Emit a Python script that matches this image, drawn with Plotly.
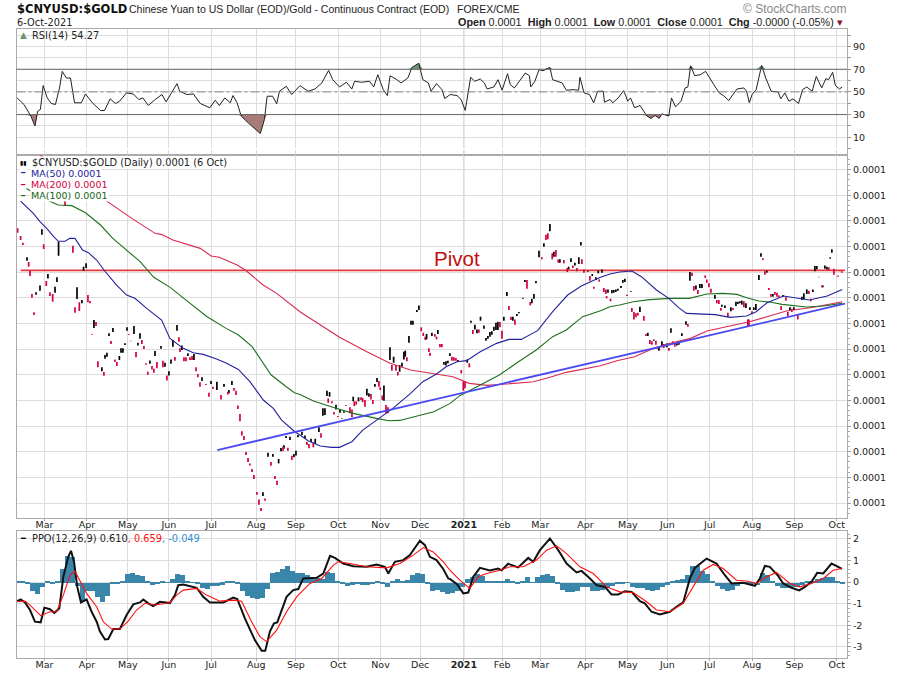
import numpy as np
import pandas as pd
import plotly.graph_objects as go
from plotly.subplots import make_subplots

# all x values are calendar days counted from this date
START = pd.Timestamp("2020-02-10")

month_labels = ["Mar", "Apr", "May", "Jun", "Jul", "Aug", "Sep", "Oct", "Nov", "Dec", "<b>2021</b>",
                "Feb", "Mar", "Apr", "May", "Jun", "Jul", "Aug", "Sep", "Oct"]
month_days = [20, 51, 81, 111, 142, 175, 204, 235, 266, 295, 327, 355, 383, 416, 447, 476, 507, 538, 569, 600]
year_day = 327

# RSI(14)
rsi_days = [0, 5, 10, 13, 15, 17, 19, 22, 25, 28, 31, 33, 36, 39, 42, 47, 50, 55, 61, 64, 68, 72, 75, 80, 85, 89, 92, 96,
            101, 106, 109, 114, 117, 119, 124, 129, 134, 141, 145, 148, 152, 156, 158, 161, 164, 169, 174, 178, 181, 183,
            187, 190, 192, 197, 201, 207, 213, 218, 223, 228, 231, 236, 241, 245, 247, 252, 258, 261, 264, 268, 271, 273,
            278, 281, 286, 289, 294, 297, 301, 303, 307, 311, 313, 317, 322, 325, 328, 330, 332, 335, 339, 342, 344, 349,
            352, 355, 359, 361, 364, 372, 375, 376, 379, 382, 385, 390, 392, 399, 402, 407, 411, 412, 415, 419, 422, 425,
            429, 430, 434, 436, 440, 444, 447, 449, 452, 456, 461, 464, 467, 470, 472, 477, 479, 482, 486, 489, 491, 493,
            496, 500, 504, 510, 514, 517, 521, 524, 527, 532, 534, 536, 538, 541, 545, 548, 552, 557, 559, 562, 565, 568,
            572, 575, 578, 582, 585, 589, 592, 594, 597, 599, 602, 604]
rsi_values = [44.7, 38.9, 28.7, 19.9, 33, 34.5, 55.6, 44.7, 39.8, 38.9, 53.5, 68.1, 62.3, 62.3, 40.4, 40.4, 48.2, 40.4, 33.6,
              33.6, 43.9, 39.8, 41.8, 49.1, 48.2, 43.3, 44.7, 38, 43.3, 47.7, 41.2, 52, 57.3, 50.6, 47.7, 48.2, 39.8, 36, 42.7,
              38, 44.7, 40.4, 46.8, 40.4, 28.7, 22.8, 17.5, 13.2, 25.7, 46.2, 46.2, 39.5, 50.6, 55, 47.7, 55.6, 50.6, 52.6,
              57.9, 69, 60.8, 54.4, 58.5, 52.6, 59.4, 58.5, 59.4, 54.4, 65.2, 52, 46.8, 64.3, 60.8, 57.9, 62.3, 71.6, 75.4,
              60.8, 57.9, 50.6, 57.3, 52, 44.2, 47.7, 46.8, 43.3, 33.6, 47.7, 62.9, 59.4, 61.4, 57.9, 52.6, 54.4, 60.8, 51.5,
              66.1, 56.4, 53.5, 66.7, 64.3, 54.4, 59.4, 69.6, 68.7, 71.6, 60.8, 57.9, 51.5, 52, 51.5, 62.9, 49.1, 47.7, 40.4,
              50.6, 50.6, 40.9, 43.3, 40.4, 44.7, 51.2, 41.8, 44.7, 36, 38, 28.7, 26.6, 29.2, 26.6, 30.7, 28.7, 44.7, 36.8,
              41.8, 53.5, 54.4, 73.1, 64.3, 65.2, 68.1, 56.4, 49.1, 46.8, 42.4, 47.7, 52.6, 53.5, 50.6, 40.4, 47.7, 52, 73.4,
              62.3, 50.6, 50, 43.9, 49.1, 41.8, 43.9, 39.8, 52, 54.4, 50.6, 63.7, 53.5, 61.7, 60.8, 67.3, 55.6, 52.6, 54.4]

# moving averages, price in millionths (0.0001 on the axis is a rounded label)
ma50_days = [2.5, 11.8, 16.7, 21.6, 26.4, 30.1, 35, 38.6, 42.3, 47.9, 52.1, 58.2, 63.5, 72.8, 80.1, 86.2, 94.8, 105.7, 111.8,
             121.6, 128.9, 136.2, 146, 153.3, 161.9, 170.4, 180.2, 187.5, 193.6, 203.3, 207, 213, 222, 230, 236, 245, 253, 266,
             275, 288, 297, 307, 314, 322, 329, 339, 351, 360, 369, 381, 392, 403, 413, 427, 434, 441, 450, 457, 468, 477, 484,
             490, 500, 511, 522, 534, 541, 549, 561, 571, 580, 593, 604]
ma50_values = [91.55, 90.59, 89.94, 89.42, 88.82, 88.41, 88.41, 88.64, 88.64, 87.73, 87.52, 86.95, 86.17, 85.0, 84.22, 83.96,
               83.18, 82.27, 80.84, 80.06, 79.72, 79.59, 79.23, 78.89, 78.42, 77.46, 76.03, 75.38, 74.47, 73.56, 73.3, 72.86,
               72.44, 72.34, 72.34, 72.78, 73.69, 74.73, 75.38, 76.55, 77.46, 78.06, 78.63, 79.02, 79.1, 79.8, 80.45, 80.76,
               80.76, 81.44, 82.92, 84.22, 84.92, 85.6, 85.86, 86.01, 86.09, 85.65, 84.61, 83.96, 83.26, 82.79, 82.74, 82.69,
               82.48, 82.58, 82.92, 83.62, 84.14, 83.96, 83.83, 84.14, 84.66]
ma100_days = [2, 12, 22, 30, 40, 50, 61, 70, 80, 90, 100, 112, 122, 139, 153, 162, 172, 180, 186, 197, 203, 207, 217, 231, 246,
              263, 272, 280, 290, 305, 317, 324, 339, 353, 367, 380, 392, 402, 414, 427, 434, 441, 451, 463, 478, 492, 505, 517,
              527, 534, 543, 551, 560, 571, 578, 590, 604]
ma100_values = [92.8, 92.2, 91.63, 91.24, 91.19, 90.64, 89.68, 88.64, 87.73, 86.82, 85.6, 84.82, 83.96, 82.53, 81.62, 81.1,
                80.19, 78.89, 77.98, 77.07, 76.6, 76.47, 75.95, 75.46, 74.99, 74.6, 74.42, 74.44, 74.73, 75.12, 75.77, 76.37,
                77.2, 77.98, 79.02, 79.93, 80.97, 81.49, 82.53, 82.99, 83.31, 83.44, 83.7, 83.86, 83.96, 83.96, 84.3, 84.35,
                84.27, 84.01, 83.75, 83.67, 83.49, 83.36, 83.28, 83.36, 83.57]
ma200_days = [17, 40, 61, 64, 75, 85, 101, 106, 114, 134, 142, 148, 161, 167, 180, 190, 207, 222, 236, 256, 273, 288, 305, 319,
              331, 344, 358, 378, 390, 402, 427, 439, 452, 466, 478, 493, 505, 524, 536, 549, 563, 583, 604]
ma200_values = [95.1, 93.4, 91.84, 91.63, 90.85, 90.12, 89.03, 88.93, 88.51, 87.86, 87.26, 87.16, 86.56, 86.17, 85.0, 84.35,
                82.92, 81.88, 80.92, 79.8, 78.89, 78.37, 78.11, 77.85, 77.33, 77.17, 77.28, 77.46, 77.8, 78.19, 78.71, 79.1,
                79.41, 80.06, 80.45, 80.84, 81.41, 81.88, 82.14, 82.53, 82.97, 83.26, 83.7]

pivot_days = [2.5, 606]
pivot_values = [86.14, 86.14]
trend_days = [146.5, 606]
trend_values = [72.13, 83.54]

# daily bars as (day, high, low)
up_bars = [
    (18.1, 89.34, 88.93), (30.3, 88.38, 87.29), (7.2, 87.16, 86.9), (22.5, 85.86, 85.5), (29.1, 85.6, 85.23),
    (13.8, 84.43, 84.25), (16.7, 84.97, 84.56), (27.7, 84.87, 84.4), (43.8, 84.82, 83.91), (47.4, 83.83, 83.57),
    (48.6, 86.43, 86.12), (50.4, 86.69, 86.33), (56.2, 82.27, 81.65), (67.2, 81.23, 81.02), (70.1, 81.65, 81.33),
    (80.4, 81.7, 81.44), (85.5, 81.8, 81.18), (89.9, 81.23, 80.81), (78.9, 80.45, 80.32), (88.4, 80.5, 80.29),
    (74.8, 79.46, 79.15), (76, 80.06, 79.72), (77.4, 80.06, 79.72), (64.3, 79.54, 79.25), (65.7, 79.72, 79.41),
    (62, 78.58, 78.27), (97.2, 79.12, 78.86), (100.9, 79.85, 79.46), (108.2, 78.94, 78.63), (112.6, 79.2, 78.86),
    (111.1, 78.27, 77.95), (105.3, 80.24, 80.03), (114, 80.71, 80.19), (117, 81.88, 81.44), (120.6, 80.29, 79.93),
    (125, 79.67, 79.46), (129.4, 79.62, 79.15), (135.3, 77.8, 77.51), (141.9, 77.51, 77.28), (146.2, 77.46, 76.81),
    (151.4, 77.28, 77.07), (157.2, 77.51, 77.2), (155, 76.81, 76.55), (179.9, 68.83, 68.54), (183.6, 71.92, 71.61),
    (187.2, 71.82, 71.61), (191.4, 71.43, 71.09), (193.1, 72.29, 72.03), (195.3, 72.5, 72.23), (196.8, 73.22, 73.07),
    (199.7, 73.17, 72.91), (205.5, 73.3, 73.12), (204.1, 72.08, 71.71), (202.6, 71.82, 71.56),
    (208.5, 73.56, 73.3), (210.7, 73.27, 73.01), (215.1, 73.01, 72.75), (218.2, 73.01, 72.6), (220.9, 73.9, 73.53),
    (223.8, 75.38, 74.81), (225.3, 75.38, 74.86), (226.8, 76.76, 76.34), (228.7, 76.65, 76.29), (233.4, 75.67, 75.3),
    (236.3, 75.25, 75.04), (239.2, 75.15, 75.04), (246, 76.29, 75.93), (249.9, 76.24, 75.93), (256, 76.91, 76.39),
    (257.5, 76.55, 76.29), (261.9, 77.28, 77.07), (263.4, 77.75, 77.43), (268.5, 77.17, 75.98), (272.9, 80.14, 79.15),
    (275.6, 79.41, 78.94), (280, 78.76, 78.24), (281.7, 78.94, 78.63), (283.1, 79.8, 79.2), (284.1, 79.88, 79.41),
    (286.8, 81.02, 80.5), (288.3, 82.22, 81.91), (289.7, 82.22, 81.91), (292.6, 83.05, 82.89), (294.1, 83.41, 83.05),
    (299.7, 81.18, 80.76), (303.6, 81.28, 81.02), (308, 81.49, 81.18), (312.4, 78.99, 78.79), (313.9, 79.05, 78.73),
    (315.3, 79.1, 78.89), (316.8, 79.67, 79.46), (322.7, 79.15, 78.99), (329.5, 79.2, 78.94), (332.2, 82.22, 82.06),
    (335.1, 81.91, 81.54), (336.6, 81.54, 81.23), (339.2, 82.53, 82.22), (341.7, 81.85, 81.59), (343.2, 80.87, 80.66),
    (344.6, 81.02, 80.81), (346.1, 81.33, 80.97), (347.5, 81.39, 81.13), (349, 81.75, 81.44), (350.5, 82.06, 81.49),
    (351.9, 82.14, 81.49), (356.3, 82.53, 82.22), (358.5, 84.45, 84.14), (362.9, 82.53, 82.22), (365.8, 82.74, 82.58),
    (367.3, 82.89, 82.79), (370.2, 84.01, 83.93), (371.7, 85.39, 85.23), (376.8, 83.93, 83.57), (378.3, 84.3, 83.93),
    (379.8, 85.31, 85.13), (382, 87.68, 87.16), (385.6, 88.25, 87.99), (390, 89.76, 89.19), (392.9, 87.6, 87.21),
    (397.3, 87.0, 86.74), (403.7, 86.43, 86.22), (405.4, 87.08, 86.79), (408.3, 86.74, 86.53), (411.2, 87.16, 86.64),
    (412.7, 88.35, 88.09), (417.8, 86.12, 86.04), (421, 85.86, 85.7), (423.7, 85.6, 85.39), (425.4, 86.12, 85.91),
    (428.1, 86.22, 85.96), (432.5, 84.66, 84.4), (435.4, 84.61, 84.35), (436.8, 84.61, 84.4), (438.3, 84.66, 84.45),
    (439.8, 84.71, 84.56), (442, 84.92, 84.77), (443.4, 85.39, 85.18), (444.9, 85.49, 85.23), (449.3, 84.53, 84.48),
    (455.9, 83.31, 82.89), (461.7, 81.28, 81.02), (466.1, 80.76, 80.66), (469.8, 80.14, 79.88), (472, 80.61, 80.19),
    (475.6, 80.45, 80.14), (478.6, 81.62, 81.28), (483, 80.5, 80.29), (484.4, 80.61, 80.35), (486.6, 81.23, 81.02),
    (489.6, 82.17, 81.91), (492.5, 86.01, 85.34), (496.9, 84.97, 84.66), (499.8, 85.08, 84.77), (501.3, 85.08, 84.77),
    (510.8, 84.22, 83.93), (515.9, 83.47, 83.31), (518.1, 83.41, 83.21), (522.5, 83.26, 82.95), (526.2, 83.7, 83.36),
    (527.6, 83.7, 83.52), (529.1, 83.73, 83.57), (530.5, 83.78, 83.47), (533.5, 83.57, 83.21), (536.4, 83.26, 83.05),
    (539.3, 83.26, 83.05), (540.8, 83.52, 83.05), (543, 85.78, 85.39), (544.5, 87.47, 87.21), (548.8, 86.12, 85.96),
    (553.2, 84.3, 84.09), (560.6, 84.22, 84.09), (565.7, 83.26, 83.05), (568.6, 83.26, 83.05), (574.5, 84.09, 83.83),
    (575.9, 84.35, 83.88), (578.1, 84.66, 84.3), (582.5, 84.66, 84.45), (584, 86.48, 86.07), (585.4, 86.48, 86.22),
    (589.8, 84.97, 84.82), (591.3, 86.53, 86.27), (592.8, 86.43, 86.22), (595.2, 87.16, 87.05), (596.4, 87.78, 87.52),
]
down_bars = [
    (0.3, 89.42, 89.08), (2.5, 88.82, 88.51), (4.2, 88.3, 88.12), (19.4, 88.17, 87.81), (35, 91.58, 91.16),
    (40.8, 88.07, 87.52), (8.4, 86.79, 86.43), (9.4, 86.12, 85.7), (21.3, 85.31, 84.92), (10.8, 84.3, 84.01),
    (24, 84.43, 84.14), (26, 84.3, 83.7), (51.8, 84.22, 83.65), (53.3, 83.75, 83.57), (12.3, 82.87, 82.66),
    (42.3, 83.26, 82.84), (45.5, 83.65, 82.97), (57.7, 82.11, 81.8), (54.7, 81.18, 81.13), (81.8, 81.18, 81.13),
    (91.3, 80.71, 80.4), (92.8, 80.24, 80.01), (68.7, 80.63, 80.4), (83, 80.66, 80.61), (59.1, 79.05, 78.58),
    (63.5, 78.21, 77.93), (71.6, 79.2, 78.99), (73, 78.99, 78.68), (87, 79.77, 79.36), (94.3, 78.89, 78.79),
    (95.7, 78.24, 78.01), (98.7, 78.68, 78.42), (100.1, 78.47, 78.16), (102.3, 78.99, 78.5), (106.7, 79.1, 78.58),
    (115.5, 79.38, 79.1), (109.6, 77.95, 77.56), (118.4, 80.92, 80.58), (119.2, 80.06, 79.77), (122.1, 79.36, 79.05),
    (123.6, 79.36, 79.05), (126.5, 79.36, 79.15), (128, 79.46, 79.15), (130.9, 78.58, 78.27), (132.3, 78.06, 77.8),
    (133.8, 77.41, 77.07), (138.2, 77.28, 77.2), (143.3, 77.07, 76.89), (140.4, 76.6, 76.29), (149.2, 76.42, 76.08),
    (158.7, 76.97, 76.76), (160.2, 76.76, 76.42), (154.3, 76.68, 76.47), (161.6, 75.61, 75.33), (163.1, 74.94, 74.37),
    (164.5, 73.59, 73.27), (166, 73.22, 72.91), (167.5, 71.97, 71.74), (169, 71.51, 71.19), (170.4, 71.09, 70.93),
    (171.9, 70.65, 70.41), (173.3, 70.18, 69.87), (175.5, 68.85, 68.65), (177, 68.28, 67.87), (181.4, 68.36, 68.18),
    (178.5, 67.61, 67.37), (185.8, 71.19, 70.91), (188.7, 70.1, 69.87), (190.2, 69.74, 69.4), (194.6, 72.39, 72.05),
    (198.2, 72.31, 72.08), (201.1, 71.69, 71.35),
    (212.1, 72.78, 72.52), (213.6, 72.6, 72.26), (216.8, 72.7, 72.34), (222.4, 73.43, 73.09), (227.7, 76.16, 75.82),
    (230.4, 75.93, 75.77), (231.9, 75.09, 74.91), (234.8, 74.78, 74.7), (237.7, 74.63, 74.57), (240.7, 75.64, 75.56),
    (243.6, 75.46, 74.99), (245.1, 75.3, 74.68), (246.8, 75.93, 75.56), (248.2, 75.93, 75.67), (251.7, 76.24, 76.03),
    (252.9, 76.19, 75.87), (254.6, 76.03, 75.51), (259, 76.5, 76.08), (260.4, 76.03, 75.72), (264.8, 77.51, 77.07),
    (265.8, 77.02, 76.81), (267.3, 76.39, 76.03), (270, 75.64, 74.99), (271.4, 75.46, 74.99), (274.3, 78.76, 78.32),
    (277.3, 78.76, 78.32), (278.7, 78.21, 77.95), (285.3, 79.36, 79.05), (295.8, 81.7, 81.39), (297.3, 81.28, 81.02),
    (298.7, 80.97, 80.71), (305.8, 81.18, 80.97), (307, 80.97, 80.76), (309.5, 80.4, 80.14), (310.9, 80.4, 80.14),
    (301.4, 80.06, 79.77), (302.2, 79.72, 79.46), (318.3, 79.41, 79.1), (319.7, 79.36, 79.1), (321.2, 79.31, 79.1),
    (325.1, 78.37, 78.11), (326.6, 77.49, 76.76), (327.8, 77.49, 76.94), (331, 78.89, 78.58), (333.6, 81.49, 81.18),
    (338, 81.54, 81.28), (353.4, 82.11, 81.7), (354.9, 81.44, 80.81), (360, 83.36, 83.05), (361.5, 82.53, 82.27),
    (364.4, 82.32, 81.91), (373.2, 85.39, 84.71), (375.6, 83.67, 83.41), (384.1, 87.16, 87), (387.1, 88.93, 88.51),
    (388.5, 89.03, 88.56), (391.7, 87.47, 87), (394.4, 87.73, 87.21), (396.1, 87, 86.74), (400.2, 86.95, 86.69),
    (402.7, 86.33, 86.01), (406.8, 86.53, 86.33), (409.8, 86.33, 86.07), (413.4, 87, 86.64), (414.9, 86.22, 85.96),
    (419.3, 85.7, 85.34), (422.2, 84.87, 84.71), (426.1, 85.44, 85.26),
    (429.5, 84.77, 84.45), (431, 84.66, 84.3), (431.5, 84.14, 83.96), (434.4, 83.93, 83.73), (446.4, 84.25, 84.14),
    (450, 83.2, 82.89), (451.5, 82.89, 82.32), (453, 82.79, 82.48), (454.4, 82.84, 82.63), (458.8, 82.58, 82.22),
    (460.3, 81.18, 81.02), (463.2, 80.71, 80.4), (464.7, 80.61, 80.35), (467.6, 80.66, 80.35), (468.6, 80.19, 80.03),
    (473.4, 80.4, 80.09), (477.1, 80.09, 79.88), (480, 80.61, 80.4), (481.5, 80.4, 80.19), (491, 81.96, 81.75),
    (494, 85.96, 85.7), (495.4, 84.92, 84.56), (498.3, 84.61, 84.3), (503.7, 85.75, 85.55), (504.9, 85.44, 85.18),
    (506.4, 85.13, 84.82), (507.9, 84.71, 84.4), (512.2, 83.83, 83.57), (513.7, 83.83, 83.52), (515.2, 83.2, 83),
    (520.3, 82.84, 82.48), (524, 83.2, 83.05), (532, 83.73, 83.26), (534.9, 82.32, 81.8), (535.7, 82.32, 81.8),
    (537.9, 82.95, 82.74), (545.9, 87.08, 86.95), (547.4, 86.07, 85.81), (550.3, 84.77, 84.61), (551.8, 84.3, 84.09),
    (554.7, 84.45, 84.25), (556.2, 84.4, 84.09), (557.6, 84.19, 84.04), (562.8, 84.04, 83.78), (559.3, 83.36, 83.05),
    (564.2, 82.89, 82.58), (567.1, 83.15, 82.89), (571.5, 82.69, 82.32), (579.6, 84.56, 84.3), (581, 83.93, 83.73),
    (586.9, 85.65, 85.6), (589.1, 84.97, 84.82), (594.2, 86.38, 86.17), (597.9, 86.27, 85.81), (600.8, 85.75, 85.65),
    (602.3, 86.12, 86.07), (603.7, 86.07, 85.96),
]

# PPO(12,26,9)
ppo_days = [0, 2.5, 5.7, 9.4, 13, 17.2, 19.9, 24, 27.2, 30.8, 33.8, 37.4, 39.4, 41.6, 44, 46.7, 50.8, 54.5, 58.2, 60.6, 64.3,
            66.7, 70.4, 75.2, 80.1, 85, 89.9, 92.3, 96, 99.6, 104.5, 111.8, 115.5, 117.9, 121.6, 131.4, 136.2, 141.1, 150.9,
            158.2, 161.1, 166.7, 174, 179, 181.6, 185, 188, 190.4, 197.2, 202.1, 205.8, 209.4, 219.2, 224.1, 229, 232.6,
            238.7, 246, 255.8, 263.1, 269.2, 271.7, 276.5, 282.6, 287.5, 294.8, 298.5, 302.2, 307, 312, 315.6, 317, 322,
            326.6, 330.2, 333.9, 338.8, 346, 352.2, 354.6, 359.5, 366.8, 374.1, 377.8, 382.7, 390, 396.1, 402.2, 409.5,
            413.2, 419.3, 424.2, 430.3, 435.1, 440, 444.9, 449.8, 455.9, 459.5, 464.4, 470.5, 477.8, 482.7, 487.6, 492.5,
            496.1, 504.7, 512, 518.1, 523, 531.5, 540.1, 543.7, 547.4, 551, 557.1, 560.8, 566.9, 572.5, 576.7, 581.5, 585.7,
            590.1, 596.2, 601, 603.8]
ppo_values = [-0.88, -0.8, -0.94, -1.29, -1.83, -1.86, -1.18, -1.25, -1.42, -1.22, 0.25, 1.17, 1.45, 0.95, -0.22, -0.94, -0.8,
              -1.37, -1.83, -2.29, -2.65, -2.63, -2.17, -2.17, -1.52, -1.03, -0.94, -0.8, -0.98, -1.11, -0.91, -0.97, -0.6,
              -0.14, -0.11, -0.26, -0.68, -0.94, -0.94, -0.71, -0.78, -1.68, -2.68, -3.18, -3.18, -2.29, -1.91, -1.86, -0.68,
              -0.37, -0.32, 0.17, 0.2, 0.4, 1.22, 1.12, 0.86, 0.74, 0.71, 0.82, 0.71, 0.4, 0.94, 1.02, 1.25, 1.92, 1.71, 1.17,
              1.02, 0.6, 0.17, 0.14, -0.09, -0.52, -0.48, 0.25, 0.66, 0.54, 0.63, 0.55, 0.85, 0.68, 1.12, 0.94, 1.48, 2.02,
              1.48, 0.86, 0.45, 0.52, 0.17, -0.14, -0.22, -0.57, -0.57, -0.42, -0.45, -0.88, -0.98, -1.37, -1.49, -1.37, -1.14,
              -0.94, 0.17, 0.66, 1.09, 0.86, 0.32, -0.06, -0.03, -0.17, 0.17, 0.75, 0.71, 0.29, -0.06, -0.26, -0.38, -0.22,
              0.02, 0.43, 0.4, 0.86, 0.71, 0.61]
signal_days = [0, 5.7, 9.4, 17.2, 24, 28.9, 33.8, 38.6, 42.3, 46, 50.8, 58.2, 63, 69.1, 75.2, 81.3, 87.4, 93.5, 100.9, 111.8,
               116.7, 121.6, 131.4, 138.7, 148.4, 158.2, 164.3, 171.6, 177.7, 182.6, 190, 197.2, 204.6, 214.3, 222.9, 231.4,
               235, 243.6, 255.8, 270.4, 280.2, 290, 297.3, 304.6, 312, 316.8, 324, 331.4, 337.5, 343.6, 353.4, 360.7, 370.5,
               380.2, 387.6, 394.9, 402.2, 412, 421.7, 431.5, 441.2, 451, 460.8, 468.1, 477.8, 487.6, 494.9, 502.2, 509.6,
               516.9, 526.6, 534, 541.3, 548.6, 555.9, 565.7, 573, 581.5, 590.1, 597.4, 603.8]
signal_values = [-0.91, -0.88, -1.06, -1.55, -1.37, -1.37, -0.6, 0.32, 0.51, 0.09, -0.52, -1.14, -1.83, -2.17, -2.17, -1.8,
                 -1.29, -0.98, -1.06, -0.95, -0.6, -0.37, -0.29, -0.6, -0.88, -0.83, -0.88, -1.83, -2.52, -2.75, -2.22, -1.37,
                 -0.68, -0.06, 0.17, 0.78, 0.94, 0.86, 0.71, 0.66, 0.86, 1.25, 1.6, 1.4, 0.94, 0.55, 0.09, -0.29, 0.25, 0.4,
                 0.55, 0.71, 0.71, 1.02, 1.48, 1.68, 1.32, 0.71, 0.4, -0.22, -0.45, -0.48, -0.91, -1.29, -1.37, -0.98, -0.22,
                 0.55, 0.82, 0.63, 0.09, 0.05, -0.06, 0.25, 0.45, -0.06, -0.22, -0.06, 0.17, 0.55, 0.63]
# histogram, read every 3.66 days
hist_step = 3.66
hist_values = [0.06, 0.05, -0.06, -0.37, -0.52, -0.22, 0.06, -0.06, 0.05, 0.63, 1.22, 1.17, -0.14, -0.88, -0.37, -0.37, -0.68,
               -0.91, -0.6, -0.06, -0.03, 0.09, 0.4, 0.45, 0.35, 0.29, 0.05, -0.09, -0.03, 0.09, 0.02, 0.17, 0.4, 0.35, 0.09,
               0.02, -0.06, -0.26, -0.29, -0.17, -0.17, -0.09, 0.05, 0.06, -0.06, -0.37, -0.6, -0.71, -0.75, -0.72, -0.29,
               0.45, 0.48, 0.63, 0.75, 0.55, 0.45, 0.45, 0.35, 0.17, 0.2, 0.17, 0.48, 0.45, 0.09, -0.06, -0.14, -0.09, -0.06,
               -0.09, -0.09, -0.06, 0.05, -0.03, -0.22, 0.09, 0.17, 0.09, 0.14, 0.35, 0.45, 0.4, -0.06, -0.37, -0.32, -0.42,
               -0.52, -0.48, -0.37, -0.18, 0.17, 0.25, 0.4, 0.32, 0.05, 0.06, 0.06, 0.06, 0.17, 0.06, -0.06, 0.06, 0.25, 0.02,
               0.25, 0.35, 0.42, 0.29, -0.06, -0.32, -0.45, -0.42, -0.37, -0.22, -0.18, -0.37, -0.37, -0.32, -0.26, -0.17,
               -0.06, -0.02, 0.02, -0.22, -0.25, -0.26, -0.32, -0.38, -0.32, -0.22, -0.09, 0.05, 0.14, 0.17, 0.35, 0.78, 0.78,
               0.55, 0.4, 0.09, -0.14, -0.29, -0.38, -0.32, -0.14, -0.06, 0.02, -0.06, -0.11, 0.45, 0.35, 0.09, -0.14, -0.26,
               -0.26, -0.22, -0.22, -0.09, 0.09, 0.06, 0.17, 0.22, 0.25, 0.25, 0.05, -0.03]

rsi_labels = {90: "90", 70: "70", 50: "50", 30: "30", 10: "10"}
price_ticks = [68, 70, 72, 74, 76, 78, 80, 82, 84, 86, 88, 90, 92, 94]
ppo_ticks = [2, 1, 0, -1, -2, -3]

BLACK = "#111111"
CRIMSON = "#d4003c"
TICK_FONT = dict(family="DejaVu Sans", size=9.5, color="#222222")
GRID = "#dddddd"
BORDER = "#aaaaaa"


def to_dates(days):
    return START + pd.to_timedelta(np.asarray(days, dtype=float), unit="D")


def bar_segments(bars):
    xs, ys = [], []
    for day, high, low in bars:
        d = to_dates([day])[0]
        xs += [d, d, None]
        ys += [high, low, None]
    return xs, ys


def px_x(px):
    return px / 900


def px_y(py):
    return 1 - py / 673


fig = make_subplots(rows=3, cols=1, shared_xaxes=True)

# --- RSI ---
rsi_x = to_dates(rsi_days)
rsi_arr = np.array(rsi_values)
for level, clipped, shade in [(30, np.minimum(rsi_arr, 30), "#a87b78"), (70, np.maximum(rsi_arr, 70), "#6e9470")]:
    fig.add_trace(go.Scatter(x=rsi_x, y=[level] * len(rsi_x), mode="lines", line=dict(width=0),
                             showlegend=False, hoverinfo="skip"), row=1, col=1)
    fig.add_trace(go.Scatter(x=rsi_x, y=clipped, mode="lines", line=dict(width=0), fill="tonexty",
                             fillcolor=shade, showlegend=False, hoverinfo="skip"), row=1, col=1)
fig.add_trace(go.Scatter(x=rsi_x, y=rsi_values, mode="lines", name="RSI(14)",
                         line=dict(color="#222222", width=1), showlegend=False), row=1, col=1)
fig.add_hline(y=70, line=dict(color="#666666", width=1), row=1, col=1)
fig.add_hline(y=30, line=dict(color="#666666", width=1), row=1, col=1)
fig.add_hline(y=50, line=dict(color="#888888", width=1, dash="dashdot"), row=1, col=1)

# --- price ---
fig.add_trace(go.Scatter(x=to_dates(pivot_days), y=pivot_values, mode="lines", name="Pivot",
                         line=dict(color="#e23a3a", width=1.6), showlegend=False), row=2, col=1)
for bars, colour, label_name in [(up_bars, "#000000", "up"), (down_bars, CRIMSON, "down")]:
    bx, by = bar_segments(bars)
    fig.add_trace(go.Scatter(x=bx, y=by, mode="lines", name=label_name, connectgaps=False,
                             line=dict(color=colour, width=1.7), showlegend=False), row=2, col=1)
for days, values, colour, label_name in [(ma200_days, ma200_values, "#d92a50", "MA(200)"),
                                         (ma100_days, ma100_values, "#1c701c", "MA(100)"),
                                         (ma50_days, ma50_values, "#22229a", "MA(50)")]:
    fig.add_trace(go.Scatter(x=to_dates(days), y=values, mode="lines", name=label_name,
                             line=dict(color=colour, width=1.1), showlegend=False), row=2, col=1)
fig.add_trace(go.Scatter(x=to_dates(trend_days), y=trend_values, mode="lines", name="Trend",
                         line=dict(color="#4a4af0", width=1.8), showlegend=False), row=2, col=1)

# --- PPO ---
hist_days = np.arange(len(hist_values)) * hist_step
fig.add_trace(go.Bar(x=to_dates(hist_days), y=hist_values, name="Hist", width=3.66 * 86400000,
                     marker=dict(color="#3a86ab", line=dict(width=0)), showlegend=False), row=3, col=1)
fig.add_trace(go.Scatter(x=to_dates(ppo_days), y=ppo_values, mode="lines", name="PPO",
                         line=dict(color=BLACK, width=2), showlegend=False), row=3, col=1)
fig.add_trace(go.Scatter(x=to_dates(signal_days), y=signal_values, mode="lines", name="Signal",
                         line=dict(color="#ff1010", width=1.1), showlegend=False), row=3, col=1)

# axes
x_range = to_dates([-0.5, 607.5])
month_x = to_dates(month_days)
for row, show in [(1, False), (2, True), (3, True)]:
    fig.update_xaxes(type="date", range=list(x_range), tickvals=month_x, ticktext=month_labels, showticklabels=show,
                     tickfont=TICK_FONT, ticks="outside", ticklen=2, tickcolor=BORDER, ticklabelstandoff=-4,
                     showgrid=True, gridcolor=GRID, gridwidth=1, showline=True, linecolor=BORDER, mirror=True, linewidth=1,
                     row=row, col=1)
    # the year gridline is darker than the month ones
    fig.add_vline(x=to_dates([year_day])[0], line=dict(color="#bbbbbb", width=1), layer="below", row=row, col=1)

rsi_grid = list(range(0, 101, 10))
fig.update_yaxes(range=[-5.7, 106], tickvals=rsi_grid, ticktext=[rsi_labels.get(v, "") for v in rsi_grid], side="right",
                 row=1, col=1)
fig.update_yaxes(range=[66.83, 95.14], tickvals=price_ticks, ticktext=["0.0001"] * len(price_ticks), side="right",
                 minor=dict(dtick=0.4, ticks="outside", ticklen=2, tickcolor="#aaaaaa", showgrid=False),
                 row=2, col=1)
fig.update_yaxes(range=[-3.51, 2.39], tickvals=ppo_ticks, ticktext=[str(v) for v in ppo_ticks], side="right",
                 minor=dict(dtick=0.2, ticks="outside", ticklen=2, tickcolor="#aaaaaa", showgrid=False),
                 row=3, col=1, zeroline=False)
fig.update_yaxes(tickfont=TICK_FONT, ticks="outside", ticklen=3, tickcolor="#999999", showgrid=True, gridcolor=GRID,
                 gridwidth=1, showline=True, linecolor=BORDER, mirror=True, linewidth=1)

fig.update_layout(
    width=900, height=673, margin=dict(l=0, r=0, t=0, b=0), paper_bgcolor="white", plot_bgcolor="white",
    showlegend=False, bargap=0,
    xaxis=dict(domain=[px_x(16.5), px_x(847)], anchor="y"),
    xaxis2=dict(domain=[px_x(16.5), px_x(847)], anchor="y2"),
    xaxis3=dict(domain=[px_x(16.5), px_x(847)], anchor="y3"),
    yaxis=dict(domain=[px_y(155), px_y(28.5)]),
    yaxis2=dict(domain=[px_y(518), px_y(155)]),
    yaxis3=dict(domain=[px_y(658), px_y(530.5)]),
)


def label(px, py, text, size=9.5, colour="#222222", family="DejaVu Sans", anchor="left", bg=None):
    fig.add_annotation(xref="paper", yref="paper", x=px_x(px), y=px_y(py), text=text, showarrow=False,
                       xanchor=anchor, yanchor="middle", align="left", bgcolor=bg, borderpad=0,
                       font=dict(family=family, size=size, color=colour))


# header
label(15.5, 9.5, "<b>$CNYUSD:$GOLD</b>", size=11.5, colour="#111111")
label(127.5, 9.5, "Chinese Yuan to US Dollar (EOD)/Gold - Continuous Contract (EOD)", size=10.5, family="Liberation Sans")
label(456, 9.5, "FOREX/CME", size=10.5, family="Liberation Sans")
label(15.5, 22.5, "6-Oct-2021", size=9.8)
label(457, 22.5, "<b>Open</b> 0.0001  <b>High</b> 0.0001  <b>Low</b> 0.0001  <b>Close</b> 0.0001  <b>Chg</b> -0.0000 (-0.05%) "
      "<span style='color:#8b1030'>▾</span>", size=10.8, family="Liberation Sans")
label(848, 9.5, "© StockCharts.com", size=12, colour="#888888", family="Liberation Sans", anchor="right")

# panel captions
label(19, 35, "<span style='color:#6e9470'>▲</span>", size=9)
label(31, 35.5, "RSI(14) 54.27", size=9.8)
label(19, 162, "<b>▮▮</b>", size=6, colour="#000000", bg="white")
label(31, 162, "$CNYUSD:$GOLD (Daily) 0.0001 (6 Oct)", size=9.8, bg="white")
label(19, 173.5, "━", size=7, colour="#22229a", bg="white")
label(29.5, 173.5, "MA(50) 0.0001", size=9.5, colour="#22229a", bg="white")
label(19, 184.5, "━", size=7, colour="#d4003c", bg="white")
label(29.5, 184.5, "MA(200) 0.0001", size=9.5, colour="#d4003c", bg="white")
label(19, 195.5, "━", size=7, colour="#116611", bg="white")
label(29.5, 195.5, "MA(100) 0.0001", size=9.5, colour="#116611", bg="white")
label(19, 538.5, "━", size=8, colour="#000000")
label(31, 538.5, "PPO(12,26,9) 0.610<span style='color:#ff1010'>, 0.659</span><span style='color:#3090d0'>, -0.049</span>", size=9.8)
label(457, 258, "Pivot", size=20.5, colour="#c40c0c", family="Liberation Sans", anchor="center")

# the page's default body margin would push the chart 8px off
fig.write_html("out.html", config={"displayModeBar": False}, post_script="document.body.style.margin='0';")
